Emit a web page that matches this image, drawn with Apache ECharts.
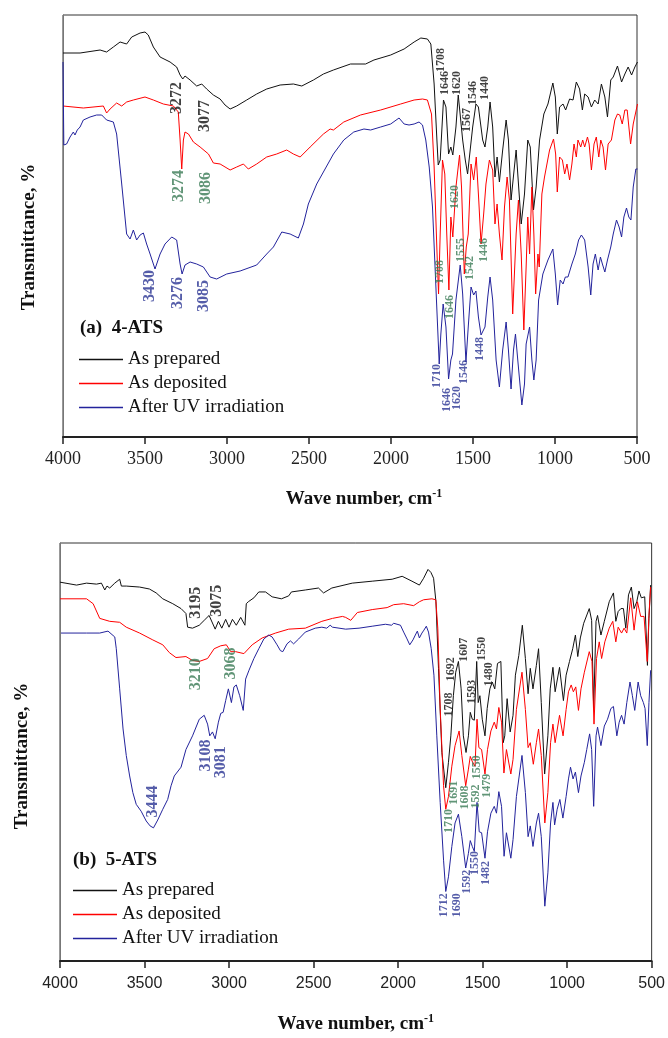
<!DOCTYPE html>
<html><head><meta charset="utf-8">
<script src="https://cdn.jsdelivr.net/npm/echarts@6/dist/echarts.min.js"></script>
<style>html,body{margin:0;padding:0;background:#fff}#c{width:668px;height:1038px}</style>
</head><body><div id="c"></div>
<script>
// ---- data: [wave number (cm-1), transmittance (arbitrary, offset units)] ----
const xTicks = [4000,3500,3000,2500,2000,1500,1000,500];
const seriesNames = ['As prepared','As deposited','After UV irradiation'];

const a_prepared = [[4000,384],[3896,384],[3774,387],[3734,385],[3693,390],[3652,395],[3612,393],[3581,400],[3530,404],[3500,405],[3480,402],[3449,390],[3408,380],[3347,375],[3307,370],[3286,362],[3270,358],[3256,361],[3225,357],[3185,351],[3154,353],[3124,348],[3083,342],[3042,338],[3012,332],[2981,328],[2941,331],[2880,337],[2819,343],[2758,348],[2676,352],[2595,353],[2544,351],[2473,357],[2412,363],[2351,367],[2247,373],[2155,373],[2104,377],[2002,382],[1920,388],[1859,395],[1818,399],[1778,398],[1757,393],[1737,353],[1720,297],[1712,272],[1700,277],[1680,337],[1665,330],[1649,283],[1635,290],[1623,282],[1604,310],[1590,342],[1578,340],[1563,297],[1547,277],[1533,263],[1523,265],[1502,310],[1482,333],[1467,330],[1441,297],[1427,290],[1410,310],[1396,335],[1380,310],[1366,260],[1353,280],[1339,255],[1319,287],[1298,317],[1284,297],[1268,237],[1237,287],[1206,213],[1186,243],[1166,297],[1151,290],[1131,227],[1115,250],[1094,297],[1068,323],[1043,333],[1013,354],[998,340],[986,303],[972,330],[951,333],[935,327],[911,338],[890,337],[870,355],[850,348],[833,327],[819,343],[798,340],[778,330],[758,337],[737,333],[717,353],[696,340],[680,320],[660,357],[645,360],[619,371],[594,355],[574,363],[554,370],[533,362],[513,370],[497,375]];

const a_deposited = [[4000,331],[3876,329],[3754,331],[3734,324],[3713,328],[3673,334],[3642,331],[3612,335],[3571,337],[3500,340],[3449,337],[3388,333],[3327,331],[3297,325],[3286,297],[3276,268],[3266,297],[3256,305],[3235,303],[3205,295],[3164,290],[3113,283],[3083,274],[3042,273],[2981,267],[2941,270],[2900,273],[2870,268],[2819,273],[2758,280],[2697,283],[2636,287],[2595,283],[2554,280],[2493,290],[2412,303],[2371,308],[2351,307],[2288,315],[2186,322],[2063,327],[1941,333],[1859,337],[1808,338],[1778,337],[1753,323],[1737,270],[1720,187],[1710,143],[1700,203],[1686,277],[1672,263],[1660,203],[1647,147],[1635,220],[1623,200],[1604,250],[1582,282],[1570,250],[1553,163],[1541,190],[1529,203],[1512,273],[1496,257],[1480,280],[1465,237],[1451,193],[1435,223],[1421,253],[1400,277],[1380,267],[1366,213],[1353,233],[1339,203],[1323,177],[1308,230],[1292,260],[1278,237],[1258,123],[1237,203],[1223,237],[1206,183],[1190,107],[1176,170],[1166,220],[1155,183],[1141,250],[1129,203],[1118,143],[1104,183],[1096,170],[1080,243],[1064,260],[1033,287],[1009,298],[996,283],[986,245],[972,280],[955,277],[941,263],[927,273],[911,257],[897,273],[884,293],[870,280],[860,297],[843,290],[831,297],[819,290],[802,300],[792,293],[778,267],[762,293],[748,300],[733,280],[721,297],[707,290],[692,267],[676,293],[656,297],[635,317],[619,323],[605,322],[590,313],[574,327],[560,327],[539,293],[523,313],[497,333]];

const a_uv = [[4000,375],[3995,292],[3978,293],[3957,300],[3937,305],[3927,302],[3913,307],[3896,310],[3876,317],[3835,320],[3795,322],[3764,322],[3754,322],[3734,317],[3693,315],[3673,303],[3642,253],[3612,203],[3591,198],[3571,207],[3551,197],[3530,202],[3510,204],[3490,193],[3469,183],[3439,168],[3408,183],[3378,193],[3337,200],[3307,197],[3286,173],[3274,163],[3256,172],[3225,175],[3185,173],[3144,170],[3103,160],[3063,158],[3002,163],[2920,166],[2819,172],[2758,183],[2717,190],[2666,205],[2615,203],[2565,199],[2534,213],[2504,233],[2453,253],[2402,268],[2351,283],[2288,297],[2227,305],[2165,308],[2124,307],[2063,310],[2002,313],[1951,319],[1920,313],[1890,312],[1859,313],[1829,315],[1808,312],[1788,297],[1767,270],[1747,230],[1727,153],[1706,73],[1696,103],[1682,133],[1665,110],[1649,58],[1635,77],[1625,83],[1604,137],[1578,172],[1563,143],[1543,75],[1529,110],[1512,150],[1496,142],[1482,146],[1467,120],[1451,102],[1427,110],[1410,140],[1396,160],[1380,137],[1359,77],[1339,50],[1319,87],[1298,115],[1284,87],[1268,48],[1253,87],[1241,103],[1227,77],[1202,32],[1186,53],[1176,93],[1155,110],[1141,77],[1129,57],[1115,77],[1100,137],[1074,163],[1043,177],[1013,188],[998,163],[984,132],[968,157],[951,153],[937,160],[921,160],[897,173],[876,183],[856,197],[839,202],[819,197],[798,170],[782,142],[768,173],[754,183],[737,167],[723,180],[711,173],[696,165],[680,177],[660,190],[645,203],[625,217],[609,210],[594,200],[580,220],[564,229],[550,220],[537,217],[523,250],[507,268],[497,268]];

const b_prepared = [[4000,387],[3902,384],[3843,386],[3784,385],[3755,386],[3735,379],[3722,383],[3706,381],[3676,386],[3647,390],[3637,383],[3608,383],[3529,382],[3471,380],[3431,376],[3392,370],[3333,365],[3284,360],[3255,355],[3245,341],[3216,340],[3176,343],[3147,348],[3118,353],[3108,352],[3082,339],[3063,347],[3043,340],[3020,349],[3000,341],[2980,349],[2957,343],[2931,351],[2906,343],[2898,365],[2886,367],[2853,371],[2824,377],[2784,377],[2745,372],[2690,370],[2647,373],[2631,377],[2549,379],[2471,381],[2441,376],[2392,381],[2271,386],[2153,388],[2035,390],[1976,393],[1918,388],[1874,384],[1849,391],[1823,400],[1806,397],[1790,391],[1776,367],[1761,299],[1741,213],[1718,177],[1702,203],[1688,230],[1673,271],[1659,295],[1643,306],[1627,278],[1614,230],[1598,213],[1584,230],[1573,254],[1561,247],[1549,246],[1535,306],[1526,264],[1516,271],[1502,247],[1486,230],[1473,258],[1457,278],[1443,285],[1428,278],[1412,304],[1392,306],[1378,223],[1369,230],[1355,268],[1337,234],[1320,251],[1306,292],[1286,312],[1265,343],[1247,309],[1231,273],[1218,299],[1202,278],[1182,302],[1169,319],[1153,264],[1133,191],[1114,230],[1100,278],[1084,300],[1071,275],[1045,300],[1022,266],[1006,292],[986,306],[967,319],[951,333],[937,311],[922,330],[902,345],[869,360],[855,348],[843,258],[829,347],[820,353],[800,333],[780,347],[751,367],[726,376],[712,347],[698,357],[682,360],[667,360],[653,340],[637,374],[620,382],[604,360],[588,367],[575,378],[561,371],[541,372],[525,302],[516,350],[506,384]];

const b_deposited = [[4000,370],[3843,370],[3804,365],[3765,350],[3706,347],[3647,346],[3608,341],[3529,335],[3451,328],[3392,323],[3353,315],[3314,310],[3255,311],[3216,307],[3176,306],[3127,309],[3088,319],[3049,322],[3016,323],[2990,316],[2961,316],[2912,314],[2863,323],[2804,330],[2725,335],[2647,339],[2549,340],[2451,347],[2388,350],[2329,352],[2310,351],[2280,348],[2241,356],[2153,359],[2065,361],[2026,364],[1967,365],[1908,363],[1874,367],[1849,369],[1800,370],[1777,369],[1765,340],[1751,258],[1731,179],[1718,155],[1702,168],[1682,199],[1663,220],[1639,235],[1623,210],[1600,179],[1584,196],[1573,209],[1559,203],[1545,199],[1533,247],[1522,218],[1506,216],[1486,191],[1471,216],[1451,235],[1431,244],[1418,237],[1404,259],[1388,244],[1374,192],[1359,216],[1349,218],[1333,191],[1320,206],[1300,257],[1267,295],[1247,257],[1231,218],[1218,223],[1200,201],[1182,223],[1169,237],[1153,210],[1132,141],[1114,172],[1098,223],[1084,242],[1071,223],[1045,251],[1024,230],[1006,257],[992,275],[976,282],[963,275],[949,280],[933,256],[918,278],[898,295],[869,316],[853,306],[841,242],[826,309],[810,326],[796,309],[777,326],[751,340],[730,347],[712,326],[698,341],[678,335],[663,340],[647,335],[624,371],[604,338],[584,367],[565,352],[545,352],[526,306],[516,353],[506,382]];

const b_uv = [[3994,335],[3843,335],[3765,335],[3716,337],[3676,331],[3667,319],[3647,278],[3627,237],[3608,210],[3588,189],[3569,172],[3549,160],[3520,153],[3490,143],[3467,138],[3447,136],[3422,144],[3392,155],[3363,165],[3343,179],[3324,189],[3284,198],[3255,216],[3216,230],[3176,247],[3147,251],[3127,242],[3114,230],[3098,234],[3082,227],[3063,244],[3049,253],[3035,254],[3020,266],[3004,278],[2986,264],[2971,280],[2957,282],[2937,271],[2916,256],[2902,288],[2882,297],[2853,309],[2824,319],[2794,329],[2765,333],[2745,331],[2716,323],[2696,317],[2682,316],[2657,324],[2637,327],[2618,324],[2588,329],[2549,336],[2490,340],[2451,341],[2422,340],[2402,343],[2388,341],[2310,339],[2231,340],[2153,342],[2075,344],[2039,343],[2026,345],[1986,343],[1967,336],[1947,329],[1931,323],[1912,328],[1898,333],[1886,337],[1874,330],[1859,335],[1847,338],[1833,342],[1820,336],[1804,319],[1788,292],[1771,230],[1751,162],[1731,103],[1718,71],[1702,86],[1682,117],[1663,141],[1643,150],[1623,127],[1600,95],[1584,110],[1573,123],[1561,117],[1549,112],[1533,162],[1520,132],[1506,131],[1486,105],[1471,132],[1451,151],[1431,158],[1418,151],[1404,173],[1388,158],[1373,107],[1359,131],[1349,132],[1333,105],[1320,124],[1300,168],[1267,210],[1247,172],[1231,127],[1218,138],[1202,117],[1182,141],[1169,151],[1153,127],[1132,56],[1114,90],[1098,141],[1084,162],[1074,139],[1059,155],[1043,165],[1025,146],[1006,168],[992,186],[980,198],[965,186],[951,193],[933,172],[918,189],[898,203],[884,216],[867,232],[855,216],[843,158],[829,230],[820,239],[800,220],[780,240],[761,247],[741,258],[726,260],[706,230],[692,244],[678,251],[663,242],[647,264],[628,285],[614,271],[600,256],[580,285],[565,271],[549,264],[539,258],[526,220],[516,264],[506,297]];

// peak annotations: [text, wave number, transmittance] (label centre)
const a_labels_prepared = [['3272',3305,339],['3077',3134,321],['1708',1694,377],['1646',1669,354],['1620',1596,354],['1567',1535,317],['1546',1499,344],['1440',1425,349]];
const a_labels_deposited = [['3274',3292,251],['3086',3128,249],['1620',1608,240],['1708',1700,165],['1555',1572,187],['1542',1517,169],['1446',1431,187],['1646',1639,130]];
const a_labels_uv = [['3430',3469,151],['3276',3298,144],['3085',3140,141],['1710',1718,61],['1646',1657,37],['1620',1596,39],['1546',1554,65],['1448',1456,88]];
const b_labels_prepared = [['3195',3194,366],['3075',3071,368],['1708',1702,262],['1692',1688,298],['1607',1608,318],['1593',1565,275],['1550',1506,319],['1480',1465,293]];
const b_labels_deposited = [['3210',3194,293],['3068',2988,304],['1710',1702,143],['1691',1671,172],['1608',1606,167],['1592',1541,168],['1550',1535,198],['1479',1473,179]];
const b_labels_uv = [['3444',3453,163],['3108',3135,210],['3081',3047,203],['1712',1731,57],['1690',1653,57],['1592',1594,81],['1550',1547,100],['1482',1482,90]];

// ---- styling ----
const SERIF = '"Liberation Serif","Times New Roman",serif';
const SANS = '"Liberation Sans",Arial,sans-serif';
const LINE_COLORS = ['#111111','#ff0000','#23239c'];
const TEXT_COLORS = ['#111111','#3a7a55','#2a3494'];

const chart = echarts.init(document.getElementById('c'), null, {renderer:'canvas'});

const grids = [
  {left:63, top:15, width:574, height:422},
  {left:60, top:543, width:594, height:427}
];
const yMax = [422, 427];
const tickFont = [{fontFamily:SERIF, fontSize:18, margin:13}, {fontFamily:SANS, fontSize:16, margin:15}];

function xAxis(i){
  return {
    type:'value', gridIndex:i, inverse:true, min:500, max:4000, interval:500,
    axisLine:{show:true, onZero:false, lineStyle:{color:'#222', width:2}},
    axisTick:{show:true, length:7, lineStyle:{color:'#222', width:1.5}},
    axisLabel:{fontFamily:tickFont[i].fontFamily, fontSize:tickFont[i].fontSize, color:'#222',
      margin:tickFont[i].margin, formatter: v => String(v)},
    splitLine:{show:false},
    name:'Wave number, cm{sup|-1}', nameLocation:'middle', nameGap: i===0 ? 51 : 52,
    nameTextStyle:{fontFamily:SERIF, fontWeight:'bold', fontSize:19, color:'#111',
      lineHeight:22, padding: i===0 ? [0,0,0,28] : [0,0,0,0],
      rich:{sup:{fontFamily:SERIF, fontWeight:'bold', fontSize:12, verticalAlign:'top', lineHeight:22, padding:[0,0,12,0]}}}
  };
}
function yAxis(i){
  return {
    type:'value', gridIndex:i, min:0, max:yMax[i],
    axisLine:{show:true, onZero:false, lineStyle:{color:'#777', width:1}},
    axisTick:{show:false}, axisLabel:{show:false}, splitLine:{show:false},
    name:'Transmittance, %', nameLocation:'middle', nameGap: i===0 ? 24 : 28,
    nameTextStyle:{fontFamily:SERIF, fontWeight:'bold', fontSize:19, color:'#111',
      padding: i===0 ? [0,22,0,0] : [0,8,0,0]}
  };
}

const panelData = [[a_prepared, a_deposited, a_uv],[b_prepared, b_deposited, b_uv]];
const panelLabels = [[a_labels_prepared, a_labels_deposited, a_labels_uv],[b_labels_prepared, b_labels_deposited, b_labels_uv]];

const series = [];
for (let p=0; p<2; p++){
  for (let s=0; s<3; s++){
    series.push({
      type:'line', name:seriesNames[s], xAxisIndex:p, yAxisIndex:p,
      data: panelData[p][s], showSymbol:false, symbol:'none', animation:false,
      lineStyle:{color:LINE_COLORS[s], width:1}, itemStyle:{color:LINE_COLORS[s]},
      emphasis:{disabled:true}, z:2
    });
  }
  for (let s=0; s<3; s++){
    series.push({
      type:'scatter', name:'peaks-'+p+'-'+s, xAxisIndex:p, yAxisIndex:p,
      symbolSize:1, itemStyle:{color:'rgba(0,0,0,0)'}, silent:true, animation:false, z:5,
      label:{show:true, position:'inside', rotate:90, formatter:'{b}',
        fontFamily:SERIF, fontWeight:'bold', color:TEXT_COLORS[s]},
      data: panelLabels[p][s].map(d => ({name:d[0], value:[d[1], d[2]],
        label:{fontSize: d[1] > 2500 ? 16 : 12}}))
    });
  }
}

const legendCommon = {
  orient:'vertical', icon:'rect', itemWidth:44, itemHeight:1.3, itemGap:5, padding:0,
  selectedMode:false,
  textStyle:{fontFamily:SERIF, fontSize:19, color:'#111', lineHeight:19}
};
const legendData = seriesNames.map((n,i) => ({name:n, itemStyle:{color:LINE_COLORS[i]}}));

chart.setOption({
  backgroundColor:'#fff',
  animation:false,
  grid: grids.map(g => Object.assign({show:true, borderColor:'#333', borderWidth:1, backgroundColor:'transparent', containLabel:false}, g)),
  xAxis:[xAxis(0), xAxis(1)],
  yAxis:[yAxis(0), yAxis(1)],
  title:[
    {text:'(a)  4-ATS', left:80, top:319, padding:0, textStyle:{fontFamily:SERIF, fontWeight:'bold', fontSize:19, color:'#111'}},
    {text:'(b)  5-ATS', left:73, top:851, padding:0, textStyle:{fontFamily:SERIF, fontWeight:'bold', fontSize:19, color:'#111'}}
  ],
  legend:[
    Object.assign({left:79, top:350, data:legendData}, legendCommon),
    Object.assign({left:73, top:881, data:legendData}, legendCommon)
  ],
  series: series
});
</script>
</body></html>
